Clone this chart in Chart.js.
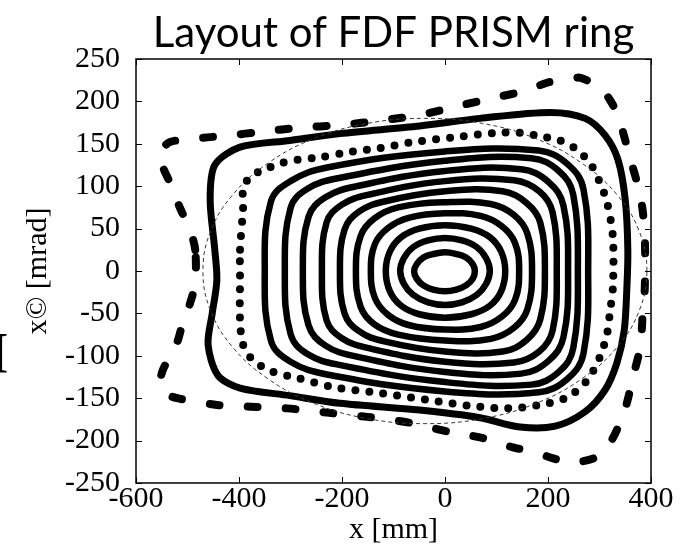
<!DOCTYPE html>
<html>
<head>
<meta charset="utf-8">
<script src="https://cdn.jsdelivr.net/npm/chart.js@4.4.1/dist/chart.umd.min.js"></script>
<style>
  html, body { margin: 0; padding: 0; background: #fff; }
  canvas { display: block; }
</style>
</head>
<body>
<canvas id="c" width="688" height="549"></canvas>
<script>
// Axis ticks
const xTicks = [-600, -400, -200, 0, 200, 400];
const yTicks = [-250, -200, -150, -100, -50, 0, 50, 100, 150, 200, 250];

// Phase-space orbits, [x mm, x' mrad], innermost first
const orbit1 = [[58,0],[54,8],[41,16],[22,20],[0,22],[-23,20],[-42,16],[-55,8],[-60,0],[-55,-9],[-42,-17],[-23,-22],[0,-24],[22,-22],[41,-17],[54,-9]];
const orbit2 = [[87,0],[80,15],[62,28],[33,36],[0,39],[-33,36],[-62,28],[-80,15],[-87,0],[-80,-15],[-62,-28],[-33,-37],[0,-40],[33,-37],[62,-28],[80,-15]];
const orbit3 = [[117,0],[109,23],[87,40],[51,50],[0,54],[-50,50],[-85,40],[-107,23],[-115,0],[-107,-24],[-85,-41],[-50,-51],[0,-55],[51,-51],[87,-41],[109,-24]];
const orbit4 = [[144,0],[136,33],[110,53],[69,65],[0,68],[-69,63],[-110,51],[-136,32],[-144,0],[-136,-32],[-110,-52],[-69,-64],[0,-69],[69,-66],[110,-54],[136,-34]];
const orbit5 = [[169,0],[160,44],[134,66],[89,79],[0,81],[-91,75],[-137,62],[-164,41],[-173,0],[-164,-42],[-137,-63],[-91,-75],[0,-82],[89,-80],[134,-67],[160,-45]];
const orbit6 = [[194,0],[185,57],[159,80],[112,94],[0,94],[-118,82],[-167,70],[-195,49],[-204,0],[-195,-50],[-167,-71],[-118,-83],[0,-95],[112,-95],[159,-81],[185,-57]];
const orbit7 = [[217,0],[209,69],[183,94],[134,107],[0,106],[-148,90],[-201,78],[-230,57],[-239,0],[-230,-58],[-201,-79],[-148,-91],[0,-107],[134,-108],[183,-95],[209,-70]];
const orbit8 = [[239,0],[230,77],[201,105],[148,120],[0,118],[-171,100],[-232,87],[-265,64],[-276,0],[-265,-64],[-232,-88],[-171,-101],[0,-119],[148,-121],[201,-106],[230,-78]];
const orbit9 = [[258,0],[249,90],[221,118],[168,133],[0,130],[-203,110],[-267,97],[-300,74],[-311,0],[-300,-74],[-267,-98],[-203,-111],[0,-131],[168,-134],[221,-119],[249,-91]];
const orbit10 = [[278,0],[269,96],[238,126],[182,142],[0,141],[-229,122],[-300,106],[-338,82],[-350,0],[-338,-82],[-300,-107],[-229,-122],[0,-142],[182,-143],[238,-127],[269,-97]];

const orbitDotted = [[-398,25],[-392,75],[-392,96],[-379,111],[-353,119],[-320,127],[-287,131],[-243,134],[-190,140],[-126,145],[-62,152],[23,158],[101,163],[146,163],[184,159],[223,154],[256,143],[282,127],[301,104],[315,80],[326,40],[326,-19],[320,-50],[315,-73],[301,-101],[276,-129],[237,-149],[184,-158],[120,-162],[49,-159],[-35,-152],[-126,-144],[-217,-137],[-287,-126],[-334,-119],[-373,-105],[-392,-87],[-398,-58],[-398,-11]];

const orbitOuter = [[-447,25],[-456,84],[-447,125],[-398,146],[-301,154],[-204,162],[-49,171],[68,180],[204,187],[272,180],[311,160],[336,131],[350,84],[355,25],[353,-22],[348,-70],[334,-108],[311,-140],[272,-166],[214,-183],[146,-184],[68,-173],[-49,-164],[-204,-156],[-301,-147],[-398,-138],[-441,-123],[-460,-87],[-452,-50],[-443,-11]];

const orbitDashed = [[-485,25],[-495,48],[-515,75],[-534,104],[-548,123],[-553,139],[-534,152],[-470,157],[-417,160],[-359,164],[-282,169],[-204,172],[-120,178],[-49,184],[35,196],[101,205],[159,213],[198,222],[237,226],[262,228],[282,223],[301,217],[320,202],[334,186],[346,163],[359,134],[373,104],[383,75],[388,40],[388,-19],[384,-50],[379,-90],[365,-125],[353,-156],[340,-179],[320,-203],[295,-219],[262,-225],[237,-225],[210,-221],[171,-213],[132,-208],[74,-197],[10,-190],[-68,-179],[-151,-172],[-229,-167],[-307,-162],[-379,-160],[-443,-158],[-482,-154],[-520,-150],[-544,-144],[-553,-132],[-548,-117],[-534,-101],[-520,-84],[-509,-61],[-495,-38],[-485,-14]];

// Acceptance ellipse outline
const acceptance = [[392,0],[377,47],[334,90],[266,127],[177,156],[73,174],[-39,180],[-151,174],[-255,156],[-344,127],[-412,90],[-455,47],[-470,0],[-455,-47],[-412,-90],[-344,-127],[-255,-156],[-151,-174],[-39,-180],[73,-174],[177,-156],[266,-127],[334,-90],[377,-47]];

// Close a loop: wrap one point before and two after so the spline is smooth at the seam,
// then hide the two duplicated end segments.
function loop(pts) {
  const n = pts.length;
  return [pts[n - 1], ...pts, pts[0], pts[1]].map(p => ({ x: p[0], y: p[1] }));
}
function loopSegment(pts) {
  const last = pts.length + 2;
  return {
    borderColor: ctx => (ctx.p0DataIndex === 0 || ctx.p1DataIndex === last) ? 'rgba(0,0,0,0)' : undefined
  };
}
function solid(pts, width, tension) {
  return {
    data: loop(pts), showLine: true, pointRadius: 0, borderColor: '#000',
    borderWidth: width, tension: tension, borderJoinStyle: 'round', borderCapStyle: 'round',
    segment: loopSegment(pts)
  };
}

const rings = [orbit1, orbit2, orbit3, orbit4, orbit5, orbit6, orbit7, orbit8, orbit9, orbit10];
const datasets = [
  Object.assign(solid(acceptance, 1, 0.4), { borderColor: '#3a3a3a', borderDash: [4, 3], borderCapStyle: 'butt' }),
  ...rings.map(r => solid(r, 6.5, 0.4)),
  Object.assign(solid(orbitDotted, 8, 0.3), { borderDash: [0, 14] }),
  solid(orbitOuter, 7, 0.3),
  Object.assign(solid(orbitDashed, 8, 0.3), { borderDash: [10, 28] })
];

const serif = "'Liberation Serif', 'Times New Roman', serif";

// Box frame with inward tick marks on all four sides
const framePlugin = {
  id: 'frame',
  afterDatasetsDraw(chart) {
    const { ctx, chartArea: a, scales: { x, y } } = chart;
    const L = 6;
    ctx.save();
    ctx.strokeStyle = '#000';
    ctx.lineWidth = 1.5;
    ctx.strokeRect(a.left, a.top, a.right - a.left, a.bottom - a.top);
    ctx.beginPath();
    x.ticks.forEach(t => {
      const px = Math.round(x.getPixelForValue(t.value)) + 0.5;
      ctx.moveTo(px, a.bottom); ctx.lineTo(px, a.bottom - L);
      ctx.moveTo(px, a.top); ctx.lineTo(px, a.top + L);
    });
    y.ticks.forEach(t => {
      const py = Math.round(y.getPixelForValue(t.value)) + 0.5;
      ctx.moveTo(a.left, py); ctx.lineTo(a.left + L, py);
      ctx.moveTo(a.right, py); ctx.lineTo(a.right - L, py);
    });
    ctx.lineWidth = 1;
    ctx.stroke();
    ctx.restore();
  }
};

// Clipped bracket at the left margin
const edgeGlyph = {
  id: 'edgeGlyph',
  afterDraw(chart) {
    const { ctx } = chart;
    ctx.save();
    ctx.fillStyle = '#000';
    ctx.font = 'bold 46px ' + serif;
    ctx.textBaseline = 'alphabetic';
    ctx.textAlign = 'left';
    ctx.fillText('[', -7, 366);
    ctx.restore();
  }
};

new Chart(document.getElementById('c'), {
  type: 'scatter',
  data: { datasets },
  plugins: [framePlugin, edgeGlyph],
  options: {
    responsive: false,
    devicePixelRatio: 1,
    animation: false,
    events: [],
    layout: { padding: { left: 0, right: 37, top: 0, bottom: 0 } },
    plugins: {
      legend: { display: false },
      tooltip: { enabled: false },
      title: {
        display: true,
        text: 'Layout of FDF PRISM ring',
        fullSize: false,
        color: '#000',
        font: { family: 'Lato, Carlito, sans-serif', size: 42, weight: 'normal', lineHeight: 1.2 },
        padding: { top: 8, bottom: 0.6 }
      }
    },
    scales: {
      x: {
        type: 'linear', min: -600, max: 400,
        afterBuildTicks: s => { s.ticks = xTicks.map(v => ({ value: v })); },
        afterFit: s => { s.height = 66; },
        grid: { display: false },
        border: { display: false },
        ticks: {
          autoSkip: false, maxRotation: 0, padding: -10, color: '#000',
          font: { family: serif, size: 30 },
          callback: v => String(v)
        },
        title: { display: true, text: 'x [mm]', color: '#000', font: { family: serif, size: 30 }, padding: { top: 0, bottom: 1 } }
      },
      y: {
        type: 'linear', min: -250, max: 250,
        afterBuildTicks: s => { s.ticks = yTicks.map(v => ({ value: v })); },
        afterFit: s => { s.width = 136; },
        grid: { display: false },
        border: { display: false },
        ticks: {
          autoSkip: false, padding: 8, color: '#000',
          font: { family: serif, size: 30 },
          callback: v => String(v)
        },
        title: { display: true, text: 'x© [mrad]', color: '#000', font: { family: serif, size: 30 }, padding: { top: 20, bottom: 0 } }
      }
    }
  }
});
</script>
</body>
</html>
